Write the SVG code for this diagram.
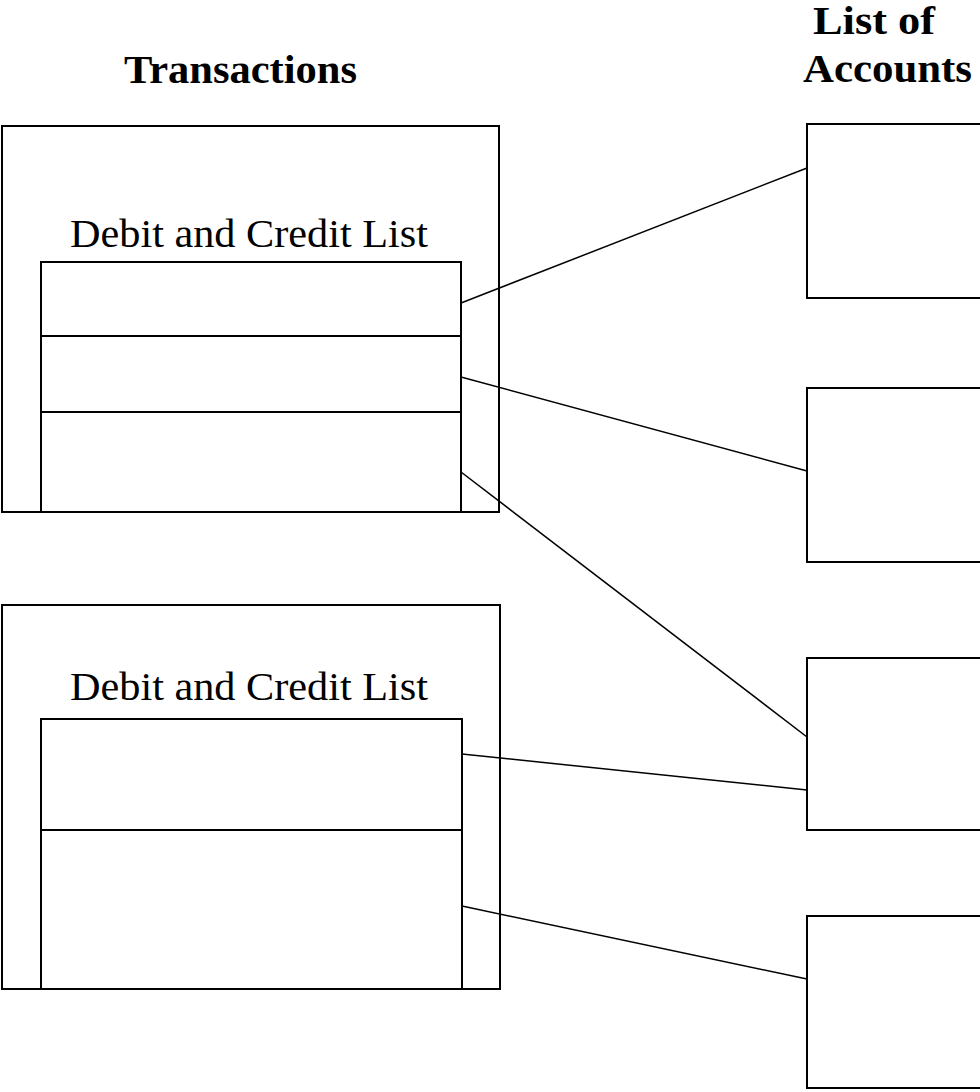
<svg xmlns="http://www.w3.org/2000/svg" width="980" height="1092" viewBox="0 0 980 1092">
<style>
.box{fill:none;stroke:#000;stroke-width:2}
.ln{stroke:#000;stroke-width:1.5;fill:none}
.lbl{font-family:"Liberation Serif","Times New Roman",serif;font-size:40px;fill:#000}
.ttl{font-family:"Liberation Serif","Times New Roman",serif;font-size:40px;font-weight:bold;fill:#000}
</style>
<rect width="980" height="1092" fill="#fff"/>
<g id="title-transactions"><text class="ttl" x="124" y="83" textLength="233" lengthAdjust="spacingAndGlyphs">Transactions</text></g>
<g id="title-accounts">
<text class="ttl" x="813" y="34" textLength="122" lengthAdjust="spacingAndGlyphs">List of</text>
<text class="ttl" x="803" y="82" textLength="169" lengthAdjust="spacingAndGlyphs">Accounts</text>
</g>
<g id="transaction1">
<rect class="box" x="2" y="126" width="497" height="386"/>
<text class="lbl" x="70" y="247" textLength="358" lengthAdjust="spacingAndGlyphs">Debit and Credit List</text>
<rect class="box" x="41" y="262" width="420" height="250"/>
<line class="box" x1="41" y1="336" x2="461" y2="336"/>
<line class="box" x1="41" y1="412" x2="461" y2="412"/>
</g>
<g id="transaction2">
<rect class="box" x="2" y="605" width="498" height="384"/>
<text class="lbl" x="70" y="700" textLength="358" lengthAdjust="spacingAndGlyphs">Debit and Credit List</text>
<rect class="box" x="41" y="719" width="421" height="270"/>
<line class="box" x1="41" y1="830" x2="462" y2="830"/>
</g>
<g id="account1"><rect class="box" x="807" y="124" width="200" height="174"/></g>
<g id="account2"><rect class="box" x="807" y="388" width="200" height="174"/></g>
<g id="account3"><rect class="box" x="807" y="658" width="200" height="172"/></g>
<g id="account4"><rect class="box" x="807" y="916" width="200" height="172"/></g>
<g id="connectors">
<line class="ln" x1="461" y1="303" x2="807" y2="168"/>
<line class="ln" x1="461" y1="377" x2="807" y2="471"/>
<line class="ln" x1="461" y1="472" x2="807" y2="737"/>
<line class="ln" x1="462" y1="754" x2="807" y2="790"/>
<line class="ln" x1="462" y1="906" x2="807" y2="979"/>
</g>
</svg>
